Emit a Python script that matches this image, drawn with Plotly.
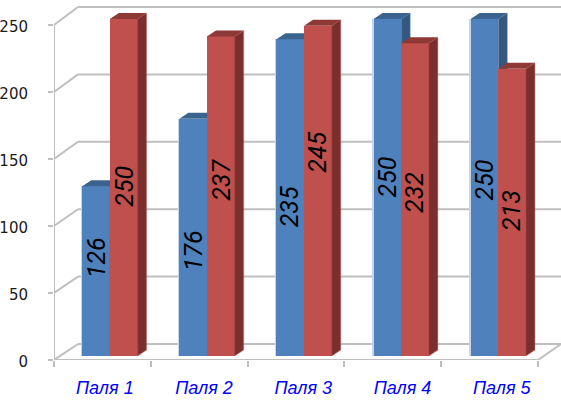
import plotly.graph_objects as go

# Values per field, two series
categories = ["Паля 1", "Паля 2", "Паля 3", "Паля 4", "Паля 5"]
series_blue = [126, 176, 235, 250, 250]
series_red = [250, 237, 245, 232, 213]
y_ticks = [0, 50, 100, 150, 200, 250]

# Oblique projection of the box, in axis units
PX_X, PX_Y = 96.8, 1.34          # pixels per axis unit
WALL_DX, WALL_DY = 24 / PX_X, 16 / PX_Y
BAR_DX, BAR_DY = 9 / PX_X, 6 / PX_Y
BAR_W, BAR_STEP = 0.286, 1.003
BAR_BASE = 3.0
BAR_SCALE = 1.006
WALL_SCALE = 1.006

BLUE = dict(front="#4F81BD", side="#34587F", top="#3B6390", glow="rgba(79,129,189,0.25)")
RED = dict(front="#C0504D", side="#7B2F2D", top="#8E3936", glow="rgba(192,80,77,0.25)")
GRID = "#BFBFBF"

# Where each value label sits along its bar, as a shift from mid-height
shift_blue = [9.7, -10.2, -7, 7.8, 5.6]
shift_red = [1.1, 12.1, 29, 5.7, 1.1]


def bar_traces(values, offset, colors, xa, ya):
    xs = [i * BAR_STEP + offset for i in range(len(values))]
    heights = [v * BAR_SCALE for v in values]
    tops = [BAR_BASE + h for h in heights]
    traces = [go.Bar(x=xs, y=heights, base=BAR_BASE, width=BAR_W,
                     marker=dict(color=colors["front"], line=dict(width=0)),
                     xaxis=xa, yaxis=ya, showlegend=False, hoverinfo="skip")]
    for x, top in zip(xs, tops):
        r = x + BAR_W / 2
        l = x - BAR_W / 2
        traces.append(go.Scatter(
            x=[r, r + BAR_DX, r + BAR_DX, r, r],
            y=[BAR_BASE, BAR_BASE + BAR_DY, top + BAR_DY, top, BAR_BASE],
            mode="lines", fill="toself", fillcolor=colors["side"],
            line=dict(width=1.5, color=colors["glow"]),
            xaxis=xa, yaxis=ya, showlegend=False, hoverinfo="skip"))
        traces.append(go.Scatter(
            x=[l, l + BAR_DX, r + BAR_DX, r, l],
            y=[top, top + BAR_DY, top + BAR_DY, top, top],
            mode="lines", fill="toself", fillcolor=colors["top"], line=dict(width=0),
            xaxis=xa, yaxis=ya, showlegend=False, hoverinfo="skip"))
    return traces


fig = go.Figure()

# Pale edge on the left of the blue bars
fig.add_trace(go.Bar(
    x=[i * BAR_STEP + 0.435 - 0.018 for i in range(len(series_blue))],
    y=[v * BAR_SCALE for v in series_blue], base=BAR_BASE, width=BAR_W,
    marker=dict(color="#C6D5E8", line=dict(width=0)), showlegend=False, hoverinfo="skip"))
for t in bar_traces(series_blue, 0.435, BLUE, "x", "y"):
    fig.add_trace(t)
for t in bar_traces(series_red, 0.72, RED, "x2", "y2"):
    fig.add_trace(t)

# Box outline: back wall gridlines, diagonals down the side wall, floor and axes
n = len(categories)
x_end = 5.2376
shapes = []
line = dict(color=GRID, width=2)
for v in y_ticks:
    by = v * WALL_SCALE + WALL_DY
    shapes.append(dict(type="line", layer="below", xref="x", yref="y",
                       x0=WALL_DX, x1=x_end, y0=by, y1=by, line=line))
    shapes.append(dict(type="line", layer="below", xref="x", yref="y",
                       x0=0, x1=WALL_DX, y0=v, y1=by, line=line))
shapes.append(dict(type="line", layer="below", xref="x", yref="y",
                   x0=0, x1=0, y0=0, y1=y_ticks[-1], line=line))
shapes.append(dict(type="line", layer="below", xref="x", yref="y",
                   x0=0, x1=n, y0=0, y1=0, line=line))
shapes.append(dict(type="line", layer="below", xref="x", yref="y",
                   x0=n, x1=x_end, y0=0, y1=WALL_DY, line=line))

annotations = []
for values, offset, shifts in ((series_blue, 0.435, shift_blue), (series_red, 0.72, shift_red)):
    for i, (v, s) in enumerate(zip(values, shifts)):
        annotations.append(dict(
            x=i * BAR_STEP + offset, y=BAR_BASE + v * BAR_SCALE / 2 + s,
            xref="x2", yref="y2", text=str(v), showarrow=False, textangle=-90,
            font=dict(family="Roboto, Liberation Sans", size=25, weight=400,
                      color="#000000", style="italic")))

fig.update_layout(
    width=561, height=401, autosize=False,
    margin=dict(l=54, r=0, t=0, b=41, pad=0, autoexpand=False),
    paper_bgcolor="#FFFFFF", plot_bgcolor="#FFFFFF",
    bargap=0, barmode="overlay", showlegend=False,
    shapes=shapes, annotations=annotations,
    xaxis=dict(
        range=[0, x_end], showgrid=False, zeroline=False, showline=False, automargin=False,
        tickmode="array", tickvals=[i * 1.025 + 0.525 for i in range(n)], ticktext=categories,
        ticks="", ticklabelstandoff=15,
        tickfont=dict(family="Liberation Sans", size=18, color="#0000FF", style="italic"),
        minor=dict(tickmode="array", tickvals=list(range(n + 1)), ticks="outside", ticklen=6,
                   tickwidth=2, tickcolor=GRID),
    ),
    yaxis=dict(
        range=[0, 360 / PX_Y], showgrid=False, zeroline=False, showline=False, automargin=False,
        tickmode="array", tickvals=y_ticks, ticks="outside", ticklen=5, tickwidth=2, tickcolor=GRID,
        ticklabelstandoff=17, ticklabelshift=2,
        tickfont=dict(family="DejaVu Sans", size=15, color="#1A1A1A"),
    ),
    xaxis2=dict(range=[0, x_end], overlaying="x", visible=False),
    yaxis2=dict(range=[0, 360 / PX_Y], overlaying="y", visible=False),
)

fig.write_html("out.html", config=dict(displayModeBar=False))
